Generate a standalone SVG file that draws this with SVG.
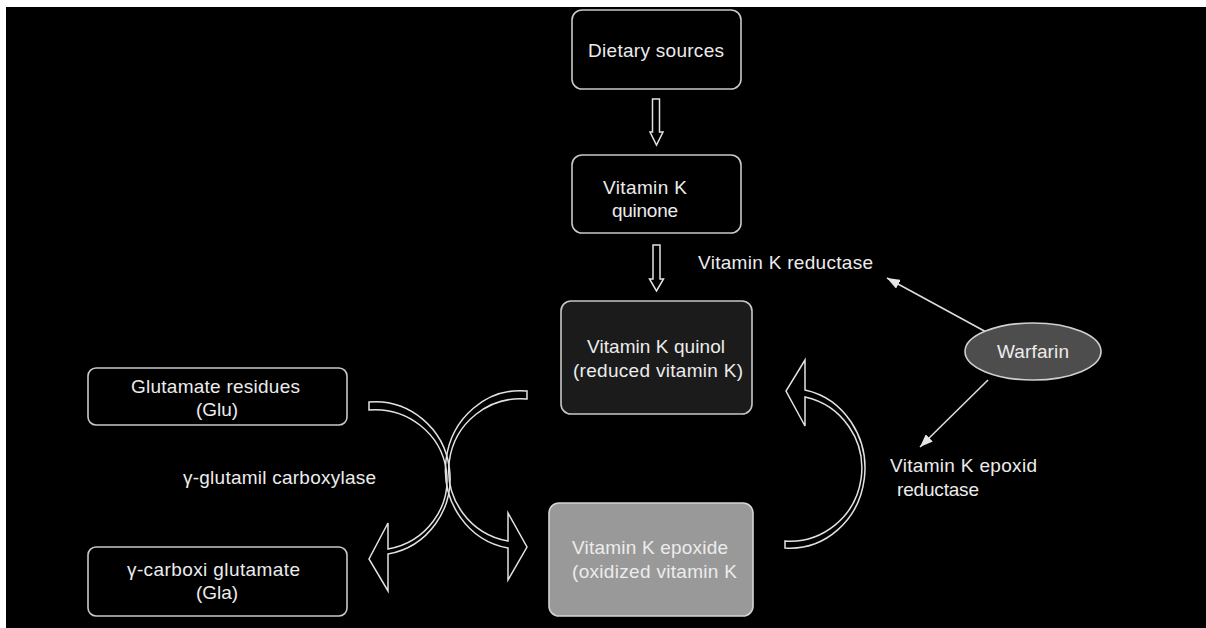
<svg xmlns="http://www.w3.org/2000/svg" width="1206" height="628" viewBox="0 0 1206 628">
<defs>
<style>
.t{font-family:"Liberation Sans",Arial,sans-serif;font-size:19px;fill:#ececec;}
.box{fill:#000;stroke:#c8c8c8;stroke-width:1.6;}
.blk{fill:none;stroke:#e2e2e2;stroke-width:1.5;stroke-linejoin:miter;}
.ln{stroke:#dcdcdc;stroke-width:1.6;fill:none;}
</style>
<marker id="ah" markerUnits="userSpaceOnUse" markerWidth="13" markerHeight="10" refX="13" refY="5" orient="auto">
<path d="M0,0 L13,5 L0,10 Z" fill="#e6e6e6"/>
</marker>
</defs>
<rect x="0" y="0" width="1206" height="628" fill="#fff"/>
<rect x="6" y="7" width="1200" height="621" fill="#000"/>

<g id="connectors">
<path class="blk" d="M652.5,99 H659.5 V132 H663 L656.5,145 L650,132 H652.5 Z"/>
<path class="blk" d="M653,245 H660 V279 H663.5 L656.5,291 L649.5,279 H653 Z"/>
<path class="blk" d="M785,548 A75,79.9 0 0 0 805,390 L805,360 L786,391 L805,426 L805,397 A72,72.9 0 0 1 785,541 Z"/>
<path class="blk" d="M369,402 A75,76.7 0 0 1 388,554 L388,591 L369,559 L388,523 L388,549 A72,70.2 0 0 0 369,410 Z"/>
<path class="blk" d="M527,391 A75,79.2 0 0 0 508,548 L508,580 L527,547 L508,513 L508,541 A72,71.7 0 0 1 527,399 Z"/>
<line class="ln" x1="988" y1="333" x2="887" y2="278" marker-end="url(#ah)"/>
<line class="ln" x1="988" y1="380" x2="920" y2="447" marker-end="url(#ah)"/>
</g>

<g id="dietary">
<rect class="box" x="572" y="10" width="169" height="79" rx="10"/>
<text class="t" x="588" y="57" textLength="136" lengthAdjust="spacing">Dietary sources</text>
</g>
<g id="quinone">
<rect class="box" x="572" y="155" width="169" height="78" rx="10"/>
<text class="t" x="603" y="194" textLength="84" lengthAdjust="spacing">Vitamin K</text>
<text class="t" x="612" y="217" textLength="66" lengthAdjust="spacing">quinone</text>
</g>
<g id="quinol">
<rect class="box" x="561" y="301" width="191" height="113" rx="10" style="fill:#1b1b1b"/>
<text class="t" x="587" y="353" textLength="138" lengthAdjust="spacing">Vitamin K quinol</text>
<text class="t" x="573" y="377" textLength="170" lengthAdjust="spacing">(reduced vitamin K)</text>
</g>
<g id="epoxide">
<rect class="box" x="549" y="503" width="204" height="113" rx="10" style="fill:#999;stroke:#d4d4d4"/>
<text class="t" x="572" y="554" textLength="156" lengthAdjust="spacing">Vitamin K epoxide</text>
<text class="t" x="572" y="578" textLength="165" lengthAdjust="spacing">(oxidized vitamin K</text>
</g>
<g id="glu">
<rect class="box" x="88" y="368" width="259" height="57" rx="8"/>
<text class="t" x="131" y="393" textLength="169" lengthAdjust="spacing">Glutamate residues</text>
<text class="t" x="196" y="416" textLength="42" lengthAdjust="spacing">(Glu)</text>
</g>
<g id="gla">
<rect class="box" x="88" y="547" width="259" height="69" rx="8"/>
<text class="t" x="127" y="576" textLength="173" lengthAdjust="spacing">γ-carboxi glutamate</text>
<text class="t" x="196" y="599" textLength="42" lengthAdjust="spacing">(Gla)</text>
</g>
<g id="carboxylase">
<text class="t" x="183" y="484" textLength="193" lengthAdjust="spacing">γ-glutamil carboxylase</text>
</g>
<g id="reductase">
<text class="t" x="698" y="269" textLength="175" lengthAdjust="spacing">Vitamin K reductase</text>
</g>
<g id="epoxid-reductase">
<text class="t" x="890" y="472" textLength="147" lengthAdjust="spacing">Vitamin K epoxid</text>
<text class="t" x="897" y="496" textLength="82" lengthAdjust="spacing">reductase</text>
</g>
<g id="warfarin">
<ellipse cx="1033" cy="351.5" rx="68" ry="28.5" fill="#4d4d4d" stroke="#d0d0d0" stroke-width="1.6"/>
<text class="t" x="997" y="358" textLength="72" lengthAdjust="spacing">Warfarin</text>
</g>
</svg>
